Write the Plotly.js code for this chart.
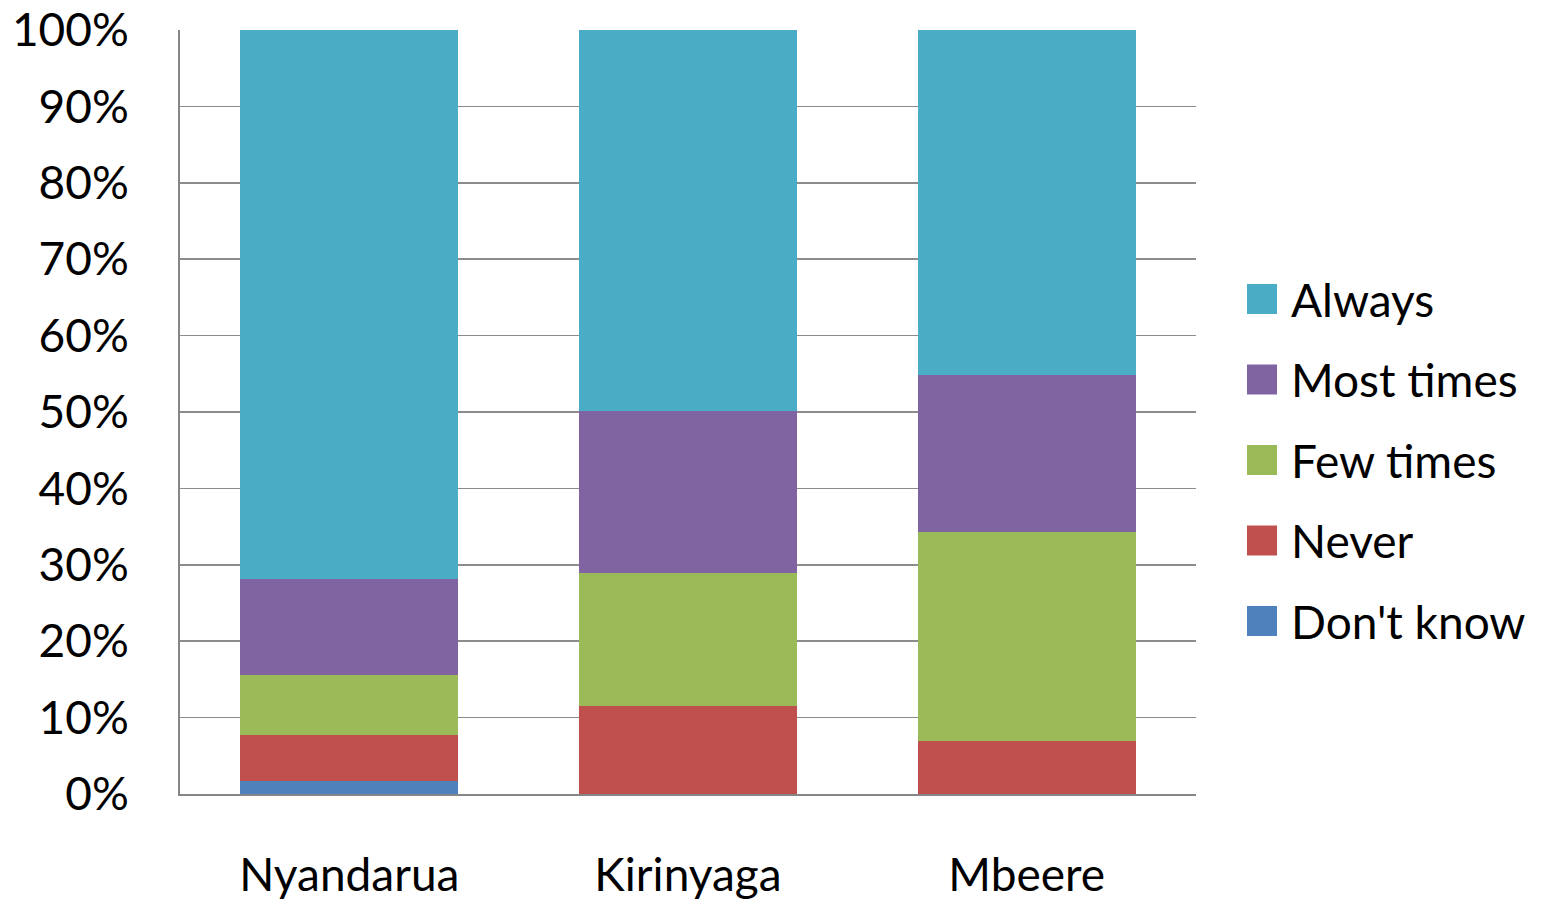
<!DOCTYPE html>
<html>
<head>
<meta charset="utf-8">
<script src="https://cdn.plot.ly/plotly-3.0.1.min.js"></script>
<style>html,body{margin:0;padding:0;background:#fff;}#chart{width:1558px;height:903px;}</style>
</head>
<body>
<div id="chart"></div>
<script>
const categories = ["Nyandarua", "Kirinyaga", "Mbeere"];
const seriesNames = ["Don't know", "Never", "Few times", "Most times", "Always"];
const dontKnow = [1.7, 0, 0];
const never = [6.0, 11.5, 6.9];
const fewTimes = [7.9, 17.4, 27.4];
const mostTimes = [12.5, 21.2, 20.5];
const always = [71.9, 49.9, 45.2];
const colors = ["#4F81BD", "#C0504D", "#9BBB59", "#8064A2", "#4BACC6"];
const yTickVals = [0, 10, 20, 30, 40, 50, 60, 70, 80, 90, 100];
const yTickText = ["0%", "10%", "20%", "30%", "40%", "50%", "60%", "70%", "80%", "90%", "100%"];

const values = [dontKnow, never, fewTimes, mostTimes, always];
const FONT = "Lato, 'Open Sans', sans-serif";

const traces = values.map((v, i) => ({
  type: "bar",
  name: seriesNames[i],
  x: categories,
  y: v,
  width: 0.644,
  marker: {color: colors[i], line: {width: 0}},
  hoverinfo: "skip",
  showlegend: false
}));

// Custom legend (large square keys), laid out in paper coordinates
const plotL = 180, plotW = 1016, plotB = 794, plotH = 764;
const px2x = p => (p - plotL) / plotW;
const px2y = p => (plotB - p) / plotH;
const legTop = 299, legStep = 80.5, keyHalf = 15, keyLeft = 1247, textLeft = 1289;
const shapes = [], annotations = [];
const n = seriesNames.length;
for (let k = 0; k < n; k++) {
  const i = n - 1 - k; // Always on top
  const cy = legTop + k * legStep;
  shapes.push({
    type: "rect", xref: "paper", yref: "paper",
    x0: px2x(keyLeft), x1: px2x(keyLeft + 2 * keyHalf),
    y0: px2y(cy + keyHalf), y1: px2y(cy - keyHalf),
    fillcolor: colors[i], line: {width: 0}
  });
  annotations.push({
    xref: "paper", yref: "paper",
    x: px2x(textLeft), y: px2y(cy),
    xanchor: "left", yanchor: "middle",
    text: seriesNames[i], showarrow: false,
    font: {family: FONT, size: 46, color: "#000"}
  });
}

const layout = {
  width: 1558, height: 903,
  margin: {l: 180, r: 362, t: 30, b: 109},
  paper_bgcolor: "#fff", plot_bgcolor: "#fff",
  barmode: "stack",
  bargap: 0.356,
  showlegend: false,
  font: {family: FONT, size: 46, color: "#000"},
  xaxis: {
    type: "category",
    showline: true, linecolor: "#868686", linewidth: 2,
    showgrid: false, ticks: "", ticklabelstandoff: 40,
    tickfont: {family: FONT, size: 46, color: "#000"},
    fixedrange: true
  },
  yaxis: {
    range: [0, 100],
    tickvals: yTickVals, ticktext: yTickText,
    showline: true, linecolor: "#868686", linewidth: 2,
    showgrid: true, gridcolor: "#8c8c8c", gridwidth: 1.5,
    zeroline: false, ticks: "", ticklabelstandoff: 40,
    tickfont: {family: FONT, size: 46, color: "#000"},
    fixedrange: true
  },
  shapes: shapes,
  annotations: annotations
};

Plotly.newPlot("chart", traces, layout, {staticPlot: true, displayModeBar: false});
</script>
</body>
</html>
